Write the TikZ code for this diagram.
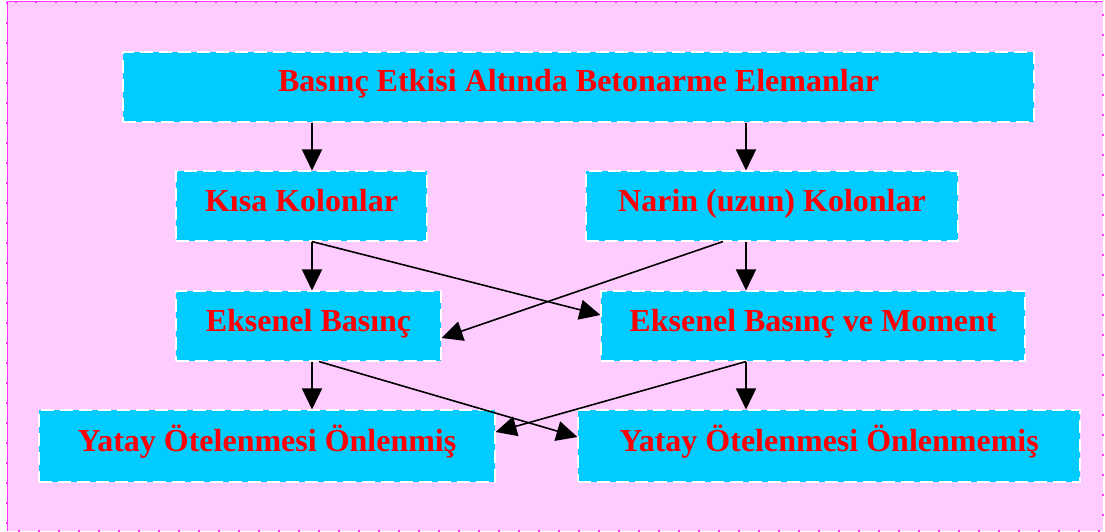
\documentclass[tikz,border=0pt]{standalone}
\usepackage{fontspec}
\setmainfont{Liberation Serif}
\usetikzlibrary{arrows.meta}
\definecolor{bgpink}{HTML}{FFCCFF}
\definecolor{bordermag}{HTML}{FF33FF}
\definecolor{boxcyan}{HTML}{00CCFF}
\definecolor{txtred}{HTML}{FF0000}
\tikzset{
  box/.style={draw=white, dash pattern=on 13pt off 6pt, line width=1.1pt, fill=boxcyan,
    text=txtred, font=\fontsize{32}{36}\selectfont\bfseries,
    text height=20pt, text depth=10pt, inner sep=0pt, anchor=center},
  arr/.style={line width=1.6pt, -{Triangle[length=21pt,width=20pt]}},
}
\begin{document}
\begin{tikzpicture}[x=1pt,y=-1pt]
\useasboundingbox (0,0) rectangle (1105,532);
\fill[bgpink] (7,2) rectangle (1103,531);
\draw[bordermag, line width=2.2pt, dash pattern=on 2.2pt off 17.8pt] (7,2) rectangle (1103,531);
\draw[bordermag, line width=1pt] (7,531) -- (7,2) -- (1103,2);

\node[box, minimum width=911pt, minimum height=70pt] (top) at (578.5,87) {Basınç Etkisi Altında Betonarme Elemanlar};
\node[box, minimum width=251pt, minimum height=70pt] (kisa) at (301.5,206) {Kısa Kolonlar};
\node[box, minimum width=372pt, minimum height=70pt] (narin) at (772,206) {Narin (uzun) Kolonlar};
\node[box, minimum width=265pt, minimum height=70pt] (eb) at (308.5,326) {Eksenel Basınç};
\node[box, minimum width=424pt, minimum height=70pt] (ebm) at (813,326) {Eksenel Basınç ve Moment};
\node[box, minimum width=456pt, minimum height=72pt] (yl) at (267,446) {Yatay Ötelenmesi Önlenmiş};
\node[box, minimum width=502pt, minimum height=72pt] (yr) at (829,446) {Yatay Ötelenmesi Önlenmemiş};

\draw[arr] ([xshift=10.5pt]kisa.north |- top.south) -- ([xshift=10.5pt]kisa.north);
\draw[arr] ([xshift=-26pt]narin.north |- top.south) -- ([xshift=-26pt]narin.north);
\draw[arr] ([xshift=10.5pt]kisa.south) -- ([xshift=10.5pt]kisa.south |- eb.north);
\draw[arr] ([xshift=10.5pt]kisa.south) -- ([yshift=11pt]ebm.west);
\draw[arr] ([xshift=-49pt]narin.south) -- ([yshift=-12pt]eb.east);
\draw[arr] ([xshift=-26pt]narin.south) -- ([xshift=-26pt]narin.south |- ebm.north);
\draw[arr] ([xshift=3.5pt]eb.south) -- ([xshift=3.5pt]eb.south |- yl.north);
\draw[arr] ([xshift=10.5pt]eb.south) -- ([yshift=9pt]yr.west);
\draw[arr] ([xshift=-67pt]ebm.south) -- ([xshift=-67pt]ebm.south |- yr.north);
\draw[arr] ([xshift=-67pt]ebm.south) -- ([yshift=14pt]yl.east);
\end{tikzpicture}
\end{document}
